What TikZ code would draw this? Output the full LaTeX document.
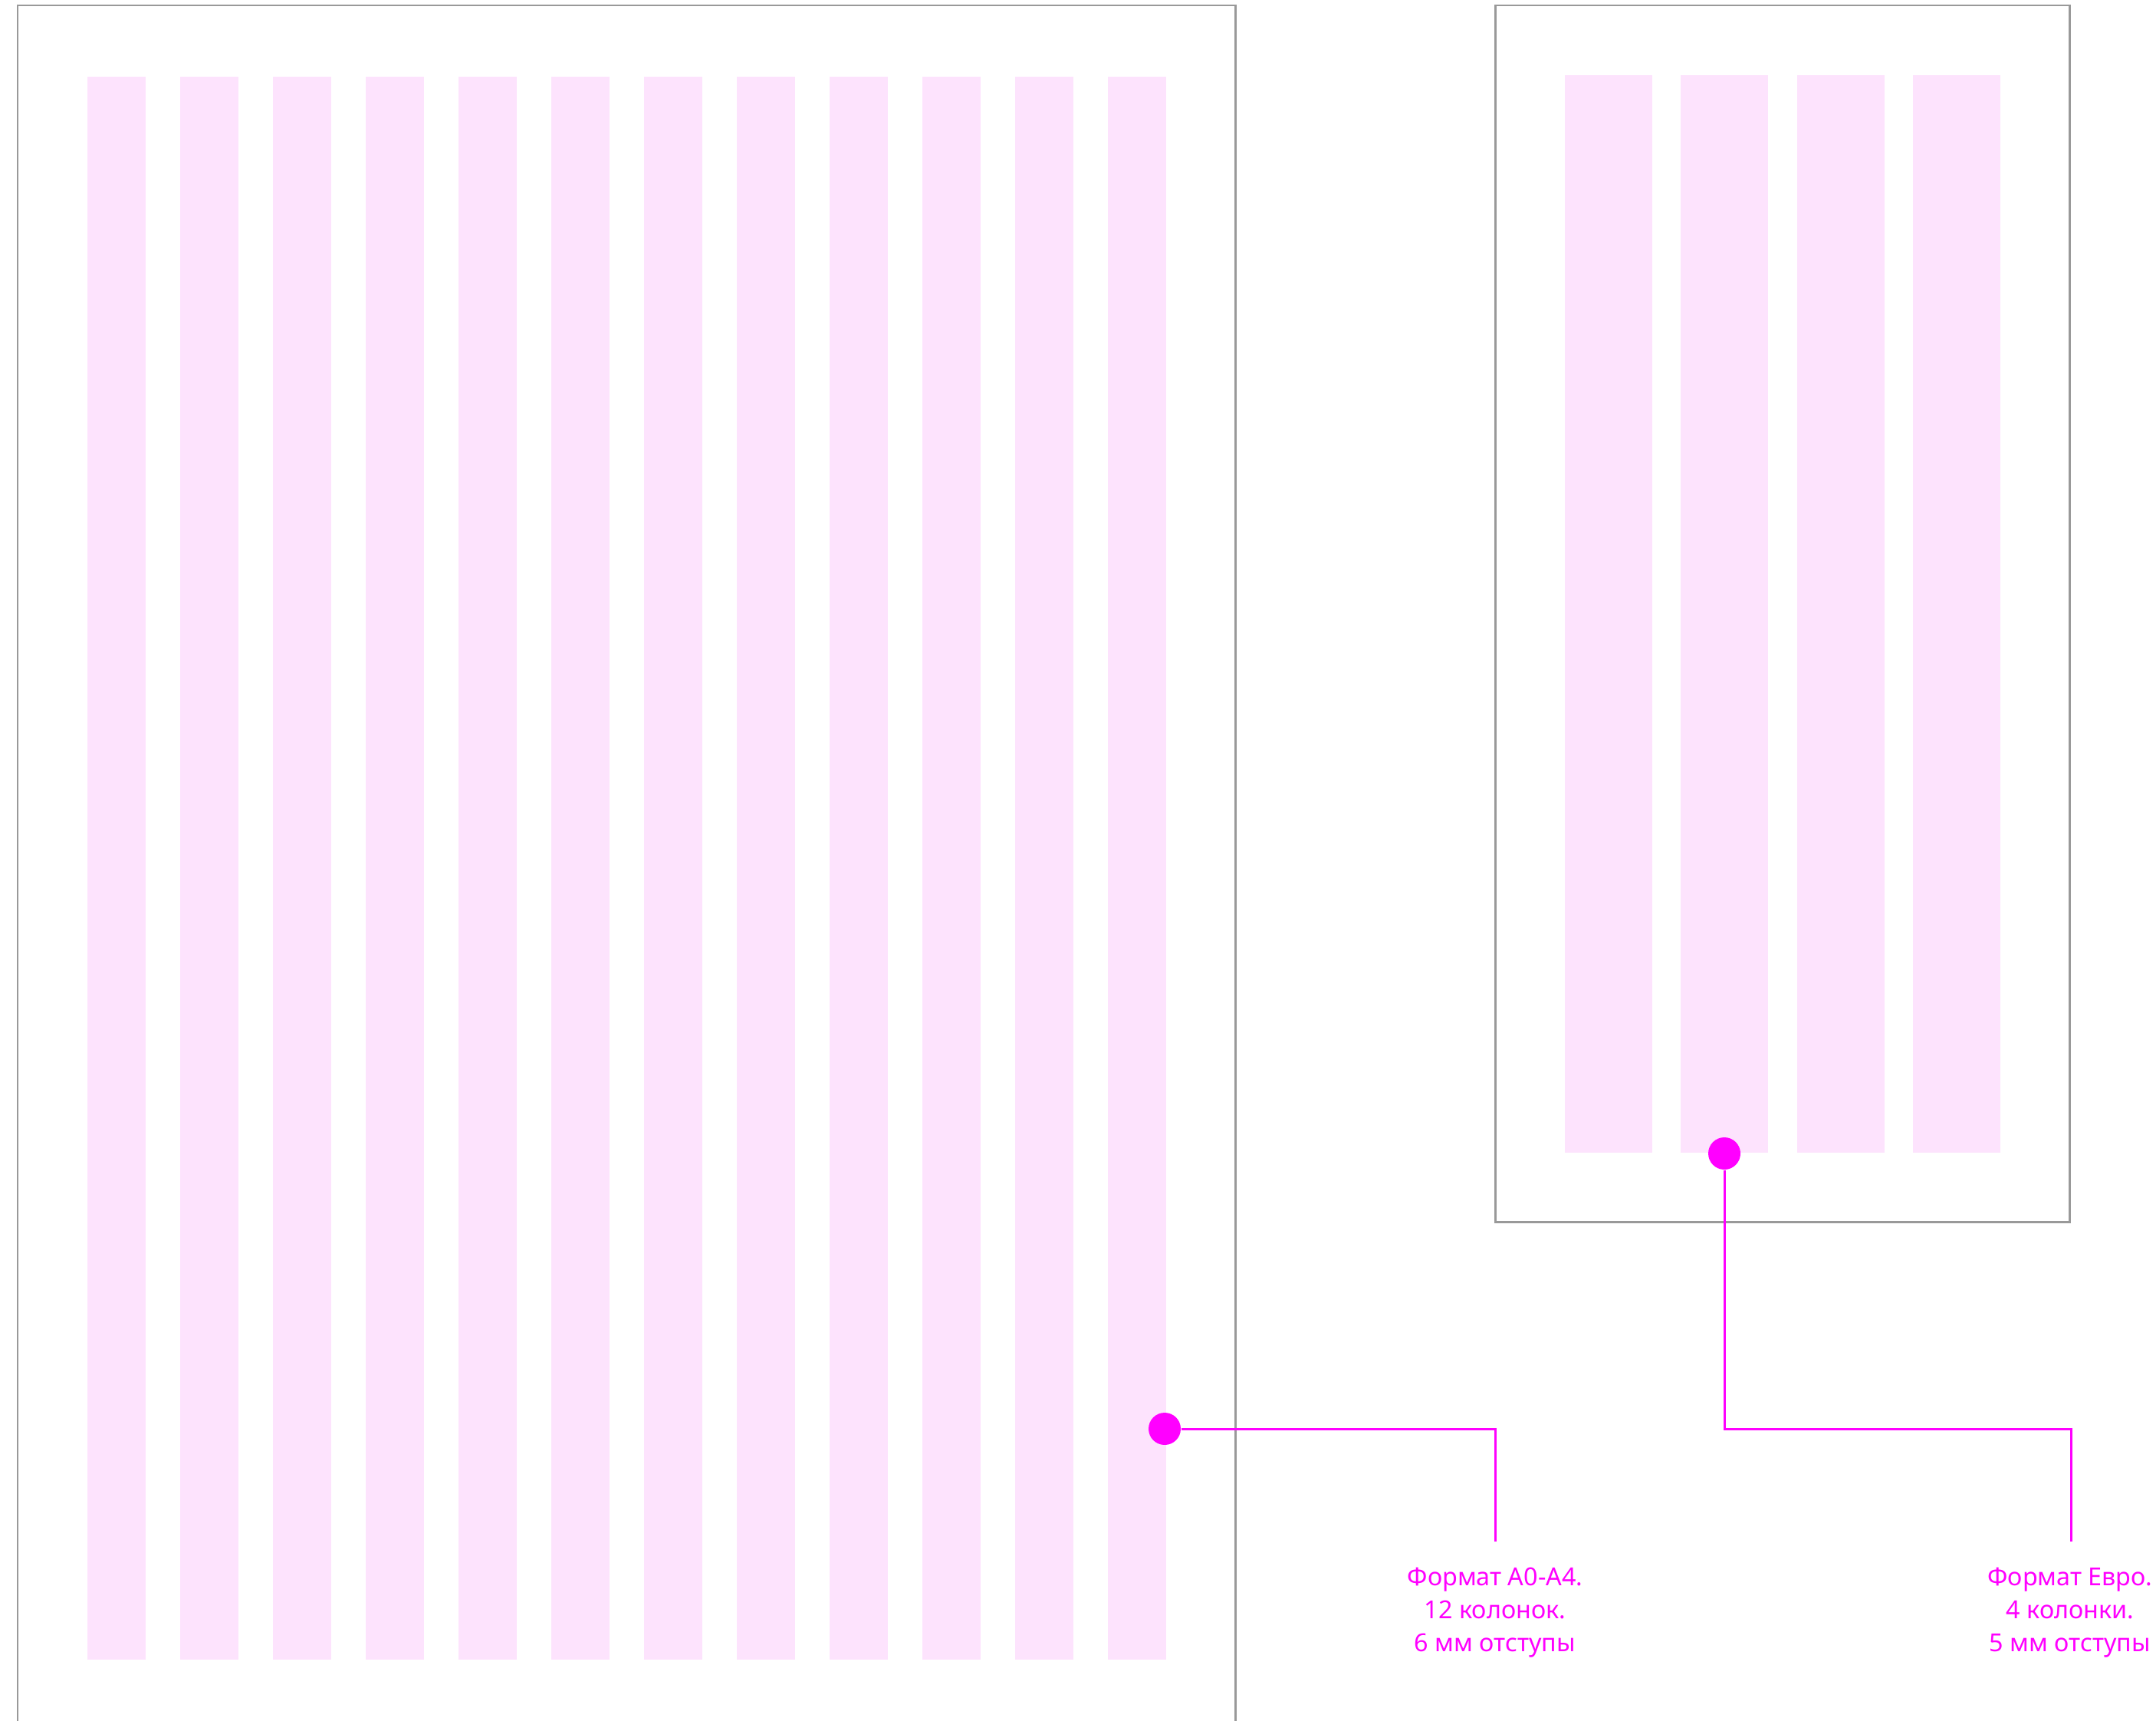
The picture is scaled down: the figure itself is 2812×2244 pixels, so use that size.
\documentclass[tikz,border=0pt]{standalone}
\usepackage{fontspec}
\setmainfont{Noto Sans}
\usepackage{xcolor}
\usepackage{tikz}
\usetikzlibrary{positioning,calc}

\definecolor{colpink}{RGB}{253,227,253}
\definecolor{framegray}{RGB}{153,153,153}
\definecolor{leadmag}{RGB}{255,0,255}

\begin{document}
\begin{tikzpicture}[
  x=0.1mm, y=-0.1mm,
  column/.style={fill=colpink},
  frame/.style={draw=framegray, line width=0.85pt},
  dot/.style={circle, fill=leadmag, inner sep=0pt, minimum size=4.2mm},
  lead/.style={draw=leadmag, line width=0.85pt},
  caption/.style={align=center, text=leadmag, inner sep=0pt, font=\fontsize{9.2}{12.1}\selectfont}
]
  \useasboundingbox (0,0) rectangle (2812,2244);

  % A0-A4 sheet, 12 columns
  \draw[frame] (23,2244) -- (23,7) -- (1611,7) -- (1611,2244);
  \foreach \i in {0,...,11}
    \fill[column] ({114+\i*121},100) rectangle ++(76,2064);

  % Euro sheet, 4 columns
  \draw[frame] (1950,7) rectangle (2699,1593);
  \foreach \i in {0,...,3}
    \fill[column] ({2041+\i*151.3},98) rectangle ++(114,1405);

  % markers
  \node[dot] (dotA) at (1519,1863) {};
  \node[dot] (dotB) at (2249,1504) {};

  \coordinate (endA) at (1950,2010);
  \coordinate (cornerB) at (2701,1863);
  \coordinate (endB) at (2701,2010);

  \draw[lead] (dotA) -| (endA);
  \draw[lead] (dotB) |- (cornerB) -- (endB);

  % captions
  \node[caption, anchor=base] (capA) at (1950,2153) {Формат А0-А4.\\12 колонок.\\6 мм отступы};
  \node[caption, anchor=base] (capB) at (2700,2153) {Формат Евро.\\4 колонки.\\5 мм отступы};
\end{tikzpicture}
\end{document}
